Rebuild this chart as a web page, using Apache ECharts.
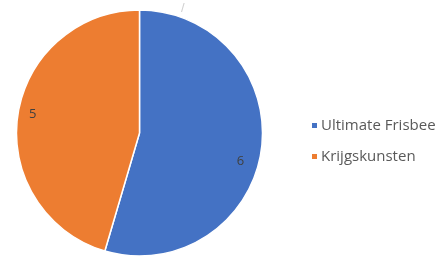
<!DOCTYPE html>
<html><head><meta charset="utf-8">
<script src="https://cdn.jsdelivr.net/npm/echarts@6/dist/echarts.min.js"></script>
<style>html,body{margin:0;padding:0;background:#fff}#c{width:439px;height:257px}</style>
</head><body><div id="c"></div>
<script>
const categories = ['Ultimate Frisbee', 'Krijgskunsten'];
const values = [6, 5];
const colors = ['#4472C4', '#ED7D31'];
const labelOffsets = [[37, 19], [-43, -10]];

const chart = echarts.init(document.getElementById('c'));
chart.setOption({
  animation: false,
  graphic: [{type: 'text', left: 181, top: 2, style: {text: '/', fill: '#d0d0d0', font: '13px "Liberation Sans"'}}],
  legend: {
    orient: 'vertical', left: 305, top: 113,
    itemWidth: 7, itemHeight: 7, itemGap: 16, icon: 'rect',
    textStyle: {color: '#595959', fontSize: 15, fontFamily: 'Open Sans', padding: [0, 0, 0, -2]},
    data: categories
  },
  series: [{
    type: 'pie', center: [139.5, 133], radius: 123,
    startAngle: 90, clockwise: true,
    data: categories.map((n, i) => ({name: n, value: values[i], itemStyle: {color: colors[i]}})),
    itemStyle: {borderColor: '#fff', borderWidth: 1.5},
    label: {position: 'inside', formatter: '{c}', color: '#404040', fontSize: 13, fontFamily: 'Open Sans'},
    labelLine: {show: false},
    labelLayout: p => ({dx: labelOffsets[p.dataIndex][0], dy: labelOffsets[p.dataIndex][1]}),
    emphasis: {disabled: true}
  }]
});
</script></body></html>
